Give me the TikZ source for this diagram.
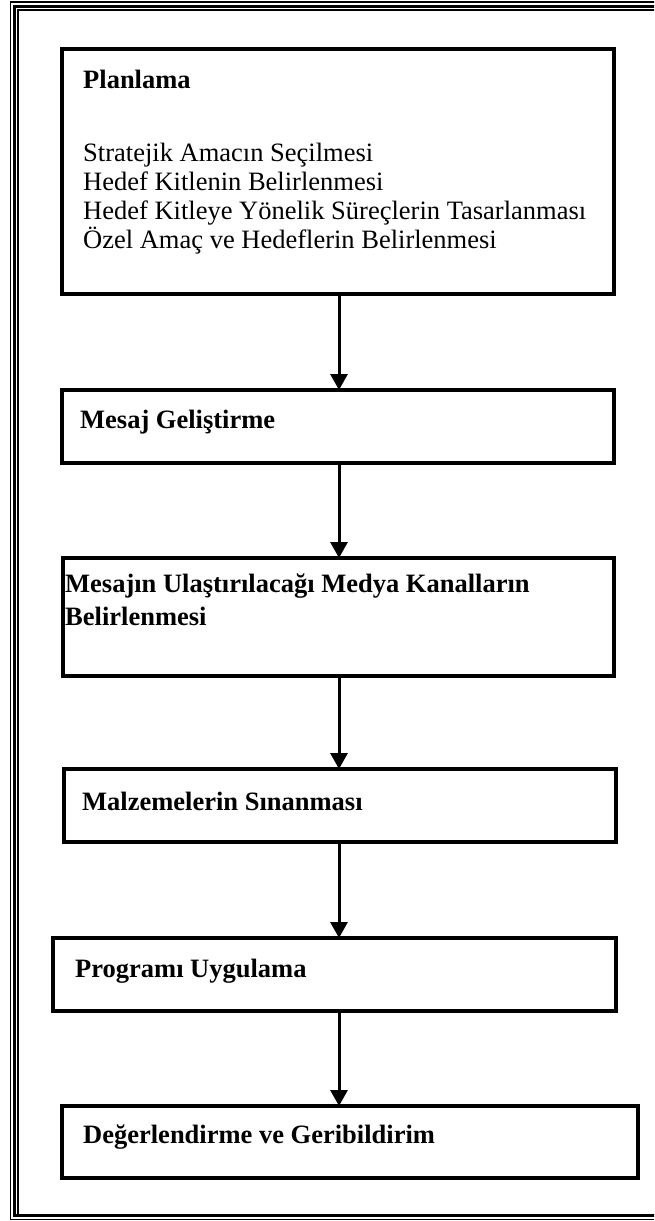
\documentclass[tikz,border=0pt]{standalone}
\usepackage{fontspec}
\setmainfont{Liberation Serif}
\usetikzlibrary{arrows.meta}
\begin{document}
\begin{tikzpicture}[x=1pt,y=-1pt,
  box/.style={draw, line width=3.1pt, outer sep=0pt, inner sep=0pt, anchor=north west},
  lbl/.style={anchor=base west, inner sep=0pt, font=\fontsize{26.5pt}{30pt}\selectfont},
  hd/.style={anchor=base west, inner sep=0pt, font=\fontsize{26.5pt}{30pt}\selectfont\bfseries},
  arr/.style={line width=3pt, -{Triangle[width=17pt,length=16pt]}},
  frthin/.style={line width=1.1pt},
  frthick/.style={line width=3pt}]
\useasboundingbox (0,0) rectangle (654,1221);
\clip (0,0) rectangle (654,1221);
% page frame (thin-thick-thin), right side cropped
\draw[frthin] (670,2) -- (10.5,2) -- (10.5,1219.5) -- (670,1219.5);
\draw[frthick] (670,6) -- (14.5,6) -- (14.5,1215.5) -- (670,1215.5);
\draw[frthin] (670,10) -- (18,10) -- (18,1214);
% boxes
\node[box, minimum width=552pt, minimum height=245pt] (b1) at (62,49) {};
\node[box, minimum width=552pt, minimum height=73pt] (b2) at (62,390) {};
\node[box, minimum width=551pt, minimum height=118pt] (b3) at (63,558) {};
\node[box, minimum width=552pt, minimum height=73pt] (b4) at (64,769) {};
\node[box, minimum width=563pt, minimum height=73pt] (b5) at (53,938) {};
\node[box, minimum width=576pt, minimum height=72pt] (b6) at (62,1106) {};
% texts
\node[hd] (t1) at (83,88) {Planlama};
\node[lbl] (t1a) at (83,161) {Stratejik Amacın Seçilmesi};
\node[lbl] (t1b) at (83,190) {Hedef Kitlenin Belirlenmesi};
\node[lbl] (t1c) at (83,219) {Hedef Kitleye Yönelik Süreçlerin Tasarlanması};
\node[lbl] (t1d) at (83,248) {Özel Amaç ve Hedeflerin Belirlenmesi};
\node[hd] (t2) at (80,428) {Mesaj Geliştirme};
\node[hd] (t3a) at (65,592) {Mesajın Ulaştırılacağı Medya Kanalların};
\node[hd] (t3b) at (65,625) {Belirlenmesi};
\node[hd] (t4) at (82,810) {Malzemelerin Sınanması};
\node[hd] (t5) at (75,977) {Programı Uygulama};
\node[hd] (t6) at (83,1143) {Değerlendirme ve Geribildirim};
% arrows
\coordinate (ax) at (339,0);
\draw[arr] (b1.south -| ax) -- (b2.north -| ax);
\draw[arr] (b2.south -| ax) -- (b3.north -| ax);
\draw[arr] (b3.south -| ax) -- (b4.north -| ax);
\draw[arr] (b4.south -| ax) -- (b5.north -| ax);
\draw[arr] (b5.south -| ax) -- (b6.north -| ax);
\end{tikzpicture}
\end{document}
